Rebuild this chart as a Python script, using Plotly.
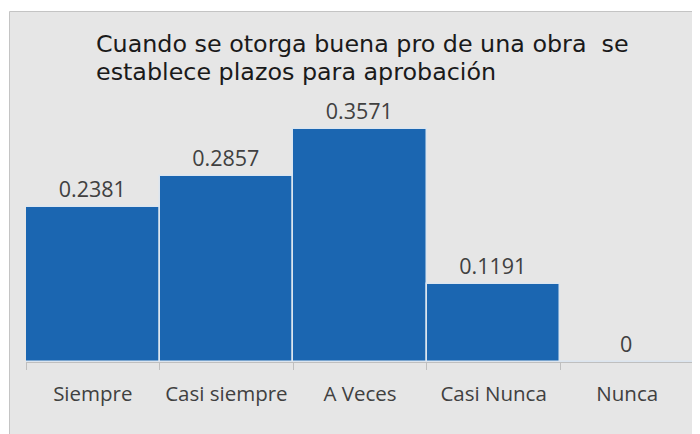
import plotly.graph_objects as go

categories = ["Siempre", "Casi siempre", "A Veces", "Casi Nunca", "Nunca"]
values = [0.2381, 0.2857, 0.3571, 0.1191, 0]
labels = ["0.2381", "0.2857", "0.3571", "0.1191", "0"]
title_lines = ["Cuando se otorga buena pro de una obra  se", "establece plazos para aprobación"]

# page body has an 8px margin; the figure is sized to fill the rest of the window
OFF = 8
W, H = 700 - OFF, 434 - OFF
L, R, T, B = 26 - OFF, 6, 100 - OFF, 72
pw, ph = W - L - R, H - T - B

def px_x(px):
    return (px - OFF - L) / pw

def px_y(py):
    return (H - B - (py - OFF)) / ph

fig = go.Figure()
fig.add_trace(go.Bar(
    x=categories, y=values, text=labels, textposition="outside",
    textfont=dict(family="Open Sans", size=21.5, color="#404040"),
    marker=dict(color="#1b66b1", line=dict(color="#dce5ef", width=1.5)),
    cliponaxis=False, hoverinfo="skip",
))

fig.add_shape(type="rect", xref="paper", yref="paper",
              x0=px_x(9.5), x1=px_x(720), y0=px_y(460), y1=px_y(11.5),
              fillcolor="#e6e6e6", line=dict(color="#c4c4c4", width=1), layer="below")

for line, cy in zip(title_lines, [44, 72]):
    fig.add_annotation(text=line, xref="paper", yref="paper",
                       x=px_x(94), y=px_y(cy), xanchor="left", yanchor="middle",
                       showarrow=False,
                       font=dict(family="DejaVu Sans", size=23.8, color="#1a1a1a"))

fig.update_layout(
    width=W, height=H,
    margin=dict(l=L, r=R, t=T, b=B),
    paper_bgcolor="white", plot_bgcolor="rgba(0,0,0,0)",
    bargap=0, showlegend=False,
    xaxis=dict(showline=True, linecolor="#bfbfbf", linewidth=1,
               ticks="outside", tickson="boundaries", ticklen=7, tickcolor="#bfbfbf",
               tickfont=dict(family="Open Sans", size=20.5, color="#404040"),
               ticklabelstandoff=13, showgrid=False, zeroline=False),
    yaxis=dict(range=[0, ph / 652], visible=False, showgrid=False, zeroline=False),
)

fig.write_html("out.html")
